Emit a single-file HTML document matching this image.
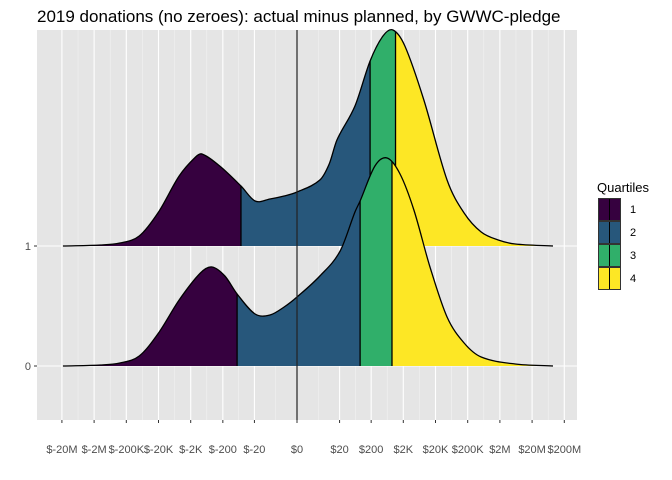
<!DOCTYPE html>
<html><head><meta charset="utf-8"><style>
body{margin:0;background:#fff;}
svg{display:block;font-family:"Liberation Sans",Arial,sans-serif;}
</style></head><body>
<svg id="chart" width="672" height="480" viewBox="0 0 672 480">
<text x="37" y="22" font-size="17" fill="#000">2019 donations (no zeroes): actual minus planned, by GWWC-pledge</text>
<rect x="37" y="30" width="540" height="390" fill="#e5e5e5"/>
<g id="grid"></g>
<g id="ridges"></g>
<g id="axes"></g>
<g id="legend">
<text x="597" y="192" font-size="13" fill="#000">Quartiles</text>
</g>
</svg>
<script>
// x in pseudo-log decades (sign * log10(1+|$|))
const tickValues = [-2e7,-2e6,-2e5,-2e4,-2e3,-200,-20,0,20,200,2e3,2e4,2e5,2e6,2e7,2e8];
const tickLabels = ["$-20M","$-2M","$-200K","$-20K","$-2K","$-200","$-20","$0","$20","$200","$2K","$20K","$200K","$2M","$20M","$200M"];
const groups = ["1","0"];
// density samples (u = decades, d = density)
const u1 = [-7.27,-6.1,-5.5,-4.9,-4.3,-3.66,-3.15,-2.95,-2.4,-1.74,-1.3,-0.84,-0.4,0,0.71,1.0,1.24,1.8,2.27,2.67,2.98,3.35,3.94,4.66,5.19,5.72,6.25,6.78,7.95];
const d1 = [0,0.01,0.03,0.1,0.34,0.7,0.89,0.92,0.8,0.6,0.45,0.47,0.5,0.54,0.66,0.82,1.06,1.4,1.85,2.1,2.16,2.0,1.46,0.66,0.33,0.14,0.06,0.02,0];
const u0 = [-7.27,-6.1,-5.5,-4.9,-4.3,-3.66,-3.0,-2.64,-2.24,-1.86,-1.3,-0.84,-0.4,0,0.71,1.34,1.8,1.96,2.42,2.8,3.2,3.63,4.13,4.66,5.19,5.72,6.78,7.95];
const d0 = [0,0.01,0.03,0.1,0.33,0.66,0.93,0.99,0.9,0.72,0.52,0.51,0.59,0.69,0.9,1.15,1.54,1.65,2.0,2.08,1.92,1.56,0.99,0.49,0.23,0.09,0.02,0];
const quartileCuts1 = [-1.74,2.27,3.06];
const quartileCuts0 = [-1.86,1.96,2.95];
const colors = ["#36013f","#27577b","#30af6a","#fde725"];

const X0=297, K=32.2, PX=100;
const xs = u => X0 + u*K;
const tval = v => Math.sign(v)*Math.log10(1+Math.abs(v));
const NS="http://www.w3.org/2000/svg";
function mk(tag, attrs, parent){const e=document.createElementNS(NS,tag);for(const k in attrs)e.setAttribute(k,attrs[k]);parent.appendChild(e);return e;}

const grid=document.getElementById('grid');
const tpos = tickValues.map(tval);
for(let i=0;i<tpos.length-1;i++){
  const l=mk('line',{x1:xs((tpos[i]+tpos[i+1])/2),x2:xs((tpos[i]+tpos[i+1])/2),y1:30,y2:420,stroke:'#f2f2f2','stroke-width':0.6},grid);
  
  
}
tpos.forEach((t,i)=>{
  const l=mk('line',{x1:xs(t),x2:xs(t),y1:30,y2:420,stroke:'#fff','stroke-width':1.1},grid);
  
  
});
const baselines=[246,366];
baselines.forEach(y=>{
  const l=mk('line',{x1:37,x2:577,y1:y,y2:y,stroke:'#fff','stroke-width':1.1},grid);
  
  
});

function smoothPath(pts){
  let d=`M${pts[0][0]},${pts[0][1]}`;
  for(let i=0;i<pts.length-1;i++){
    const p0=pts[Math.max(0,i-1)],p1=pts[i],p2=pts[i+1],p3=pts[Math.min(pts.length-1,i+2)];
    const h=p2[0]-p1[0];
    const m1=(p2[1]-p0[1])/((p2[0]-p0[0])||1), m2=(p3[1]-p1[1])/((p3[0]-p1[0])||1);
    const c1=[p1[0]+h/3,p1[1]+m1*h/3];
    const c2=[p2[0]-h/3,p2[1]-m2*h/3];
    d+=` C${c1[0]},${c1[1]} ${c2[0]},${c2[1]} ${p2[0]},${p2[1]}`;
  }
  return d;
}
function yAt(pathEl,x){
  const L=pathEl.getTotalLength();let lo=0,hi=L;
  for(let k=0;k<40;k++){const m=(lo+hi)/2;if(pathEl.getPointAtLength(m).x<x)lo=m;else hi=m;}
  return pathEl.getPointAtLength(lo).y;
}
const ridges=document.getElementById('ridges');
const defs=mk('defs',{},ridges);
const series=[[u1,d1,quartileCuts1,246,'ridge-group-1'],[u0,d0,quartileCuts0,366,'ridge-group-0']];
series.forEach(([u,d,cuts,base,name],si)=>{
  const g=mk('g',{},ridges);
  
  
  const pts=u.map((v,i)=>[xs(v),base-d[i]*PX]);
  const curve=smoothPath(pts);
  const area=curve+` L${pts[pts.length-1][0]},${base} L${pts[0][0]},${base} Z`;
  const edges=[xs(u[0]),...cuts.map(xs),xs(u[u.length-1])];
  for(let q=0;q<4;q++){
    const cp=mk('clipPath',{id:`c${si}_${q}`},defs);
    mk('rect',{x:edges[q],y:0,width:edges[q+1]-edges[q],height:480},cp);
    const a=mk('path',{d:area,fill:colors[q],'clip-path':`url(#c${si}_${q})`},g);
    
    
  }
  const line=mk('path',{d:curve,fill:'none',stroke:'#000','stroke-width':1.3},g);
  
  
  cuts.forEach(c=>{
    const x=xs(c);
    const v=mk('line',{x1:x,x2:x,y1:base,y2:yAt(line,x),stroke:'#000','stroke-width':1.3},g);
    
    
  });
});

const axes=document.getElementById('axes');
const zl=mk('line',{x1:xs(0),x2:xs(0),y1:30,y2:420,stroke:'#222','stroke-width':1.2},axes);


tpos.forEach((t,i)=>{
  const tk=mk('line',{x1:xs(t),x2:xs(t),y1:420,y2:423,stroke:'#333','stroke-width':1},axes);
  
  
  const tx=mk('text',{x:xs(t),y:453,'font-size':11,fill:'#4d4d4d','text-anchor':'middle'},axes);
  tx.textContent=tickLabels[i];
  
  
});
groups.forEach((gname,i)=>{
  const tk=mk('line',{x1:34,x2:37,y1:baselines[i],y2:baselines[i],stroke:'#333','stroke-width':1},axes);
  
  
  const tx=mk('text',{x:31,y:baselines[i]+4,'font-size':11,fill:'#4d4d4d','text-anchor':'end'},axes);
  tx.textContent=gname;
  
  
});

const legend=document.getElementById('legend');
colors.forEach((c,i)=>{
  const y=198+i*23;
  const r=mk('rect',{x:598.5,y:y+0.5,width:22,height:22,fill:c,stroke:'#333','stroke-width':1},legend);
  
  
  const v=mk('line',{x1:609.5,x2:609.5,y1:y+1,y2:y+22,stroke:'#000','stroke-width':1},legend);
  
  
  const t=mk('text',{x:630,y:y+15,'font-size':11,fill:'#000'},legend);
  t.textContent=String(i+1);
  
  
});
</script>
</body></html>
